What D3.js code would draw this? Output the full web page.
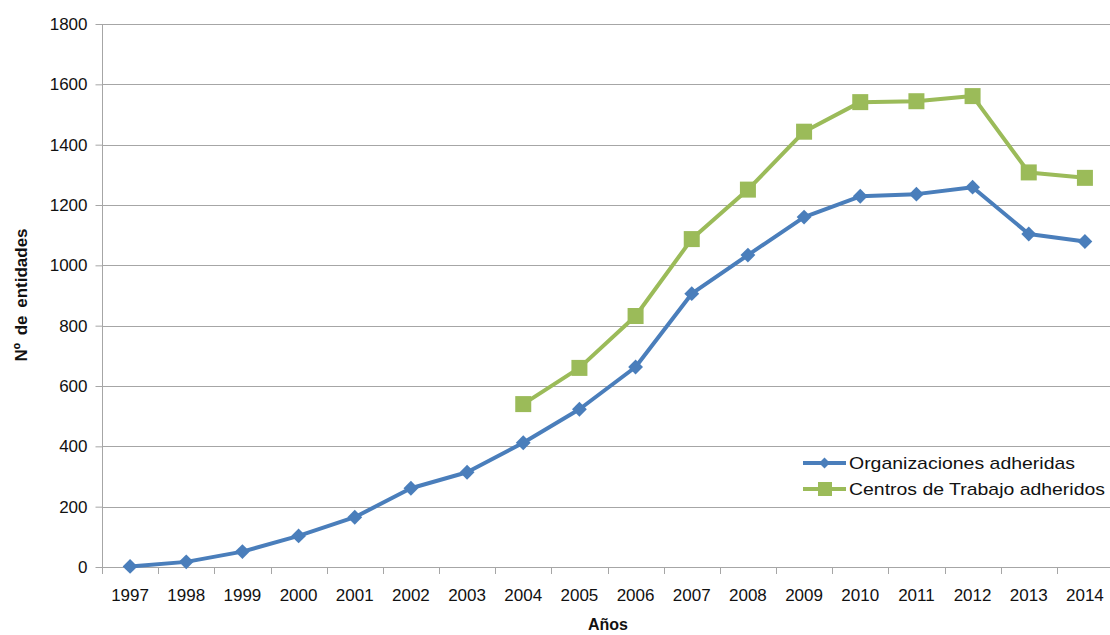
<!DOCTYPE html>
<html><head><meta charset="utf-8">
<script src="https://cdn.jsdelivr.net/npm/d3@7"></script>
<style>body{margin:0;background:#fff}svg{display:block}text{font-family:"Liberation Sans",Arial,sans-serif}</style>
</head><body>
<svg id="c" width="1110" height="635"></svg>
<script>
const years = ["1997","1998","1999","2000","2001","2002","2003","2004","2005","2006","2007","2008","2009","2010","2011","2012","2013","2014"];
const organizaciones = [2,17,51,103,165,261,314,412,523,663,906,1034,1160,1229,1236,1259,1104,1079];
const centros = [null,null,null,null,null,null,null,540,660,832,1087,1251,1443,1541,1544,1561,1308,1290];
const yTicks = [0,200,400,600,800,1000,1200,1400,1600,1800];
const seriesNames = ["Organizaciones adheridas","Centros de Trabajo adheridos"];

const svg = d3.select("#c");
const m = {l:102, r:1113, t:24, b:567};
const x = d3.scaleBand().domain(years).range([m.l, m.r]);
const y = d3.scaleLinear().domain([0,1800]).range([m.b, m.t]);

// gridlines
svg.append("g").selectAll("line").data(yTicks.slice(1)).join("line")
  .attr("x1",m.l).attr("x2",m.r).attr("y1",d=>Math.round(y(d))+0.5).attr("y2",d=>Math.round(y(d))+0.5)
  .attr("stroke","#a6a6a6").attr("stroke-width",1);

// y axis
const ya = svg.append("g").attr("transform",`translate(${m.l+0.5},0)`)
  .call(d3.axisLeft(y).tickValues(yTicks).tickSize(7).tickPadding(8).tickFormat(d3.format("d")));
ya.select(".domain").attr("stroke","#a6a6a6").attr("d",`M0,${m.t}V${m.b}`);
ya.selectAll(".tick line").attr("stroke","#a6a6a6");
ya.selectAll(".tick text").attr("font-size",17).attr("fill","#111").attr("font-family","Liberation Sans, Arial, sans-serif");

// x axis
const bounds = years.map(d=>x(d)).concat([m.r-1]);
svg.append("line").attr("x1",m.l).attr("x2",m.r).attr("y1",m.b+0.5).attr("y2",m.b+0.5).attr("stroke","#a6a6a6");
svg.append("g").selectAll("line").data(bounds).join("line")
  .attr("x1",d=>Math.round(d)+0.5).attr("x2",d=>Math.round(d)+0.5).attr("y1",m.b).attr("y2",m.b+7).attr("stroke","#a6a6a6");
svg.append("g").selectAll("text").data(years).join("text")
  .attr("x",d=>x(d)+x.bandwidth()/2).attr("y",m.b+34).attr("text-anchor","middle")
  .attr("font-size",17).attr("fill","#111").text(d=>d);

// titles
svg.append("text").attr("x",608).attr("y",630).attr("text-anchor","middle").attr("font-size",16).attr("font-weight","bold").attr("fill","#111").text("Años");
svg.append("text").attr("transform","translate(27,295) rotate(-90)").attr("text-anchor","middle").attr("font-size",17).attr("font-weight","bold").attr("fill","#111").attr("word-spacing","3px").text("Nº de entidades");

const cx = d=>x(d)+x.bandwidth()/2;
const blue = "#4a7ebb", green = "#9bbb59";
const line = d3.line().defined(d=>d[1]!=null).x(d=>cx(d[0])).y(d=>y(d[1]));

const dataB = years.map((yy,i)=>[yy,organizaciones[i]]);
const dataG = years.map((yy,i)=>[yy,centros[i]]);

svg.append("path").datum(dataG).attr("d",line).attr("fill","none").attr("stroke",green).attr("stroke-width",4).attr("stroke-linejoin","round");
svg.append("g").selectAll("rect").data(dataG.filter(d=>d[1]!=null)).join("rect")
  .attr("x",d=>cx(d[0])-8).attr("y",d=>y(d[1])-8).attr("width",16).attr("height",16).attr("fill",green);

svg.append("path").datum(dataB).attr("d",line).attr("fill","none").attr("stroke",blue).attr("stroke-width",4).attr("stroke-linejoin","round");
svg.append("g").selectAll("path").data(dataB).join("path")
  .attr("transform",d=>`translate(${cx(d[0])},${y(d[1])}) rotate(45)`)
  .attr("d",d3.symbol().type(d3.symbolSquare).size(110)).attr("fill",blue);

// legend
const lg = svg.append("g");
const items = [{n:seriesNames[0],c:blue,t:"d",yy:463},{n:seriesNames[1],c:green,t:"s",yy:489}];
items.forEach(it=>{
  lg.append("line").attr("x1",803).attr("x2",846).attr("y1",it.yy).attr("y2",it.yy).attr("stroke",it.c).attr("stroke-width",4);
  if(it.t==="d") lg.append("path").attr("transform",`translate(824.5,${it.yy}) rotate(45)`).attr("d",d3.symbol().type(d3.symbolSquare).size(60)).attr("fill",it.c);
  else lg.append("rect").attr("x",818).attr("y",it.yy-7).attr("width",14).attr("height",14).attr("fill",it.c);
  lg.append("text").attr("x",849).attr("y",it.yy+6).attr("font-size",17).attr("fill","#111").attr("textLength",it.t==="d"?226:256).attr("lengthAdjust","spacingAndGlyphs").text(it.n);
});
</script>
</body></html>
